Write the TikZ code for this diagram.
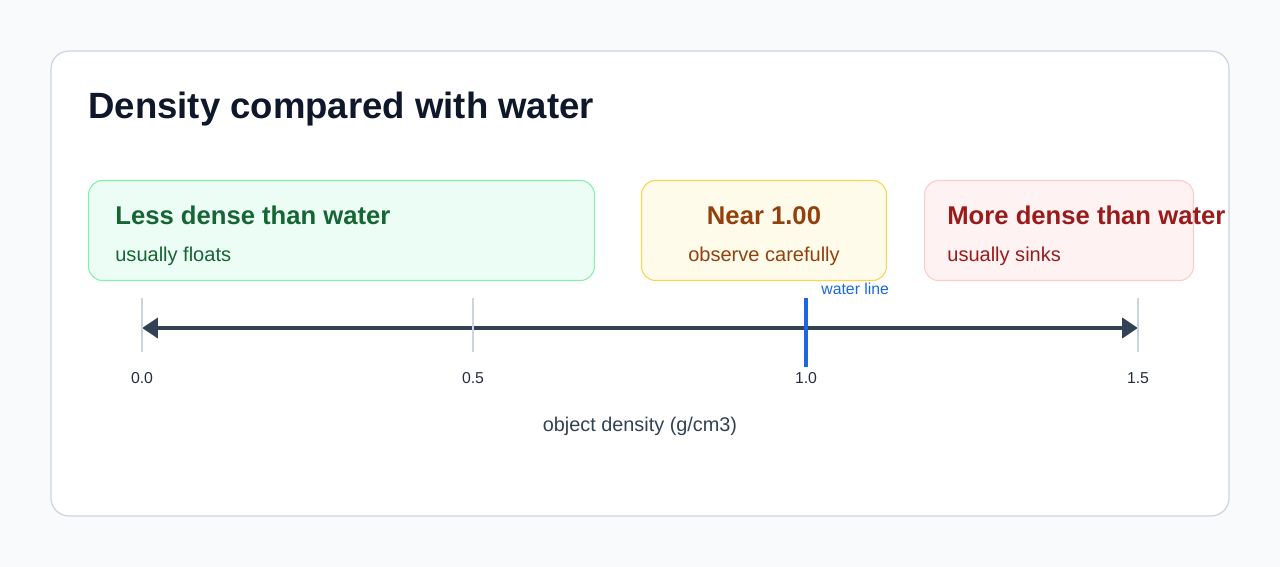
\documentclass[tikz,border=0pt]{standalone}
\usepackage{fontspec}
\setmainfont{Liberation Sans}
\usetikzlibrary{arrows.meta, positioning}

\definecolor{pagebg}{HTML}{F8FAFC}
\definecolor{cardline}{HTML}{CBD5E1}
\definecolor{inkdark}{HTML}{0F172A}
\definecolor{axisink}{HTML}{334155}
\definecolor{lessfill}{HTML}{ECFDF5}
\definecolor{lessline}{HTML}{86EFAC}
\definecolor{lessink}{HTML}{166534}
\definecolor{nearfill}{HTML}{FFFBEB}
\definecolor{nearline}{HTML}{FCD34D}
\definecolor{nearink}{HTML}{92400E}
\definecolor{morefill}{HTML}{FEF2F2}
\definecolor{moreline}{HTML}{FECACA}
\definecolor{moreink}{HTML}{991B1B}
\definecolor{waterblue}{HTML}{1D4ED8}

\newcommand{\fs}[1]{\fontsize{#1}{#1}\selectfont}

\tikzset{
  zonebox/.style={rounded corners=0.28cm, line width=0.6pt, anchor=north west,
    minimum height=2cm, inner sep=0pt},
  zonehead/.style={anchor=base west, inner sep=0pt, font=\fs{14.6pt}\bfseries},
  zonesub/.style={anchor=base west, inner sep=0pt, font=\fs{11.4pt}},
  ticklbl/.style={anchor=base, inner sep=0pt, font=\fs{9pt}, text=inkdark!90},
  graytick/.style={draw=cardline, line width=1.2pt},
}

\begin{document}
\begin{tikzpicture}[x=0.02cm, y=-0.02cm]
  \useasboundingbox (0,0) rectangle (1280,567);
  \fill[pagebg] (0,0) rectangle (1280,567);
  \draw[cardline, fill=white, line width=0.7pt, rounded corners=0.36cm] (51,51) rectangle (1229,516);

  \node[anchor=base west, inner sep=0pt, font=\fs{20.8pt}\bfseries, text=inkdark] (title) at (88,119) {Density compared with water};

  % zones
  \node[zonebox, draw=lessline, fill=lessfill, minimum width=10.12cm] (less) at (88,180) {};
  \node[zonebox, draw=nearline, fill=nearfill, minimum width=4.9cm] (near) at (641,180) {};
  \node[zonebox, draw=moreline, fill=morefill, minimum width=5.38cm] (more) at (924,180) {};

  \node[zonehead, text=lessink] (lesshead) at (115,225) {Less dense than water};
  \node[zonesub, text=lessink] (lesssub) at (115,262) {usually floats};
  \node[zonehead, text=nearink, anchor=base] (nearhead) at (764,225) {Near 1.00};
  \node[zonesub, text=nearink, anchor=base] (nearsub) at (764,262) {observe carefully};
  \node[zonehead, text=moreink] (morehead) at (947,225) {More dense than water};
  \node[zonesub, text=moreink] (moresub) at (947,262) {usually sinks};

  % axis
  \coordinate (lo) at (142,328);
  \coordinate (hi) at (1138,328);
  \draw[axisink, line width=2.8pt, {Triangle[length=0.32cm,width=0.4cm]}-{Triangle[length=0.32cm,width=0.4cm]}] (lo) -- (hi);

  \foreach \v/\x in {0.0/142, 0.5/473, 1.5/1138} {
    \draw[graytick] (\x,298) -- (\x,352);
    \node[ticklbl] (tick\x) at (\x,383) {\v};
  }
  \draw[waterblue!85!cyan, line width=2.8pt] (806,298) -- (806,367);
  \node[ticklbl] (tick806) at (806,383) {1.0};
  \node[anchor=base west, inner sep=0pt, font=\fs{9pt}, text=waterblue!85!cyan] (water) at (821,295) {water line};

  \node[anchor=base, inner sep=0pt, font=\fs{11.3pt}, text=axisink] (axlabel) at (640,431) {object density (g/cm3)};
\end{tikzpicture}
\end{document}
